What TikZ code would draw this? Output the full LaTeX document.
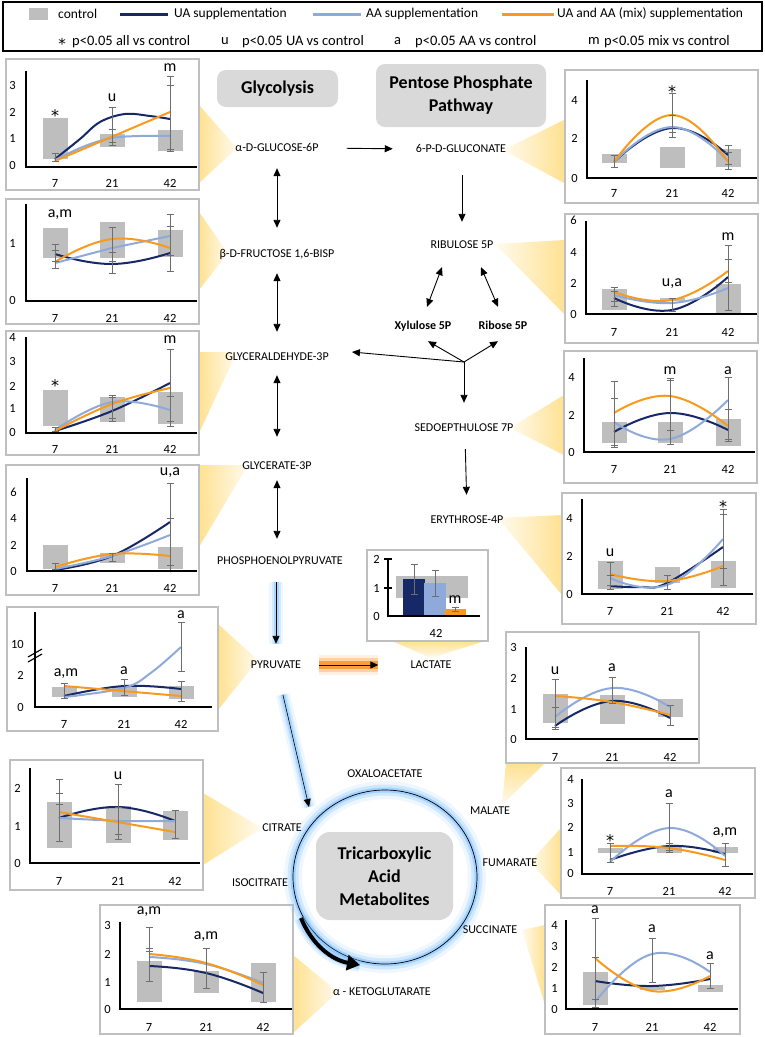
\documentclass[tikz,border=0pt]{standalone}
\usepackage{fontspec}
\setmainfont{Carlito}
\newfontfamily\dvs{DejaVu Sans}
\usetikzlibrary{arrows.meta,shapes.geometric}
\definecolor{uac}{RGB}{22,40,102}
\definecolor{aac}{RGB}{142,170,219}
\definecolor{mixc}{RGB}{247,154,30}
\definecolor{ctrlg}{RGB}{190,190,190}
\definecolor{framec}{RGB}{191,191,191}
\definecolor{errc}{RGB}{110,110,110}
\definecolor{boxg}{RGB}{217,217,217}
\definecolor{callY}{RGB}{255,225,145}
\definecolor{glowB}{RGB}{120,190,255}
\definecolor{glowO}{RGB}{247,140,30}
\newcommand{\fsz}[1]{\fontsize{#1}{#1}\selectfont}
\newcommand{\Cgb}[3]{\fill[ctrlg] ({#1-12.5},#2) rectangle ({#1+12.5},#3);}
\newcommand{\Ceb}[3]{\draw[ebar] (#1,#2) -- (#1,#3);}
\newcommand{\Cyt}[3]{\node[ctick,anchor=east] at (#1,#2) {#3};}
\newcommand{\Cxl}[4]{\node[ctick] at (#2,#1) {7};\node[ctick] at (#3,#1) {21};\node[ctick] at (#4,#1) {42};}
\newcommand{\Csg}[3]{\node[csig] at (#1,#2) {#3};}
\newcommand{\Cstar}[2]{\node[font=\dvs\fsz{16}, inner sep=0pt, anchor=base] at (#1,{#2+9.5}) {*};}
\newcommand{\Cfr}[4]{\draw[cframe] (#1,#2) rectangle (#3,#4);}
\newcommand{\Cax}[4]{\draw[caxis] (#1,#2) -- (#1,#3) -- (#4,#3);}
\tikzset{
 cframe/.style={draw=framec, line width=1.5pt, fill=white},
 caxis/.style={draw=black, line width=1.3pt},
 ebar/.style={draw=errc, line width=0.9pt, {Bar[width=7pt]}-{Bar[width=7pt]}},
 uaL/.style={draw=uac, line width=2pt},
 aaL/.style={draw=aac, line width=2pt},
 mixL/.style={draw=mixc, line width=2pt},
 ctick/.style={font=\fsz{12.5}, inner sep=0pt},
 csig/.style={font=\fsz{16}, inner sep=0pt},
 met/.style={font=\fsz{12}, inner sep=2pt, text height=8pt, text depth=2pt},
 metb/.style={met, font=\bfseries\fsz{12}},
 titlebox/.style={fill=boxg, rounded corners=9pt, font=\bfseries\fontsize{18}{23}\selectfont, align=center},
 arr/.style={line width=0.9pt, -{Triangle[length=8pt,width=7pt]}},
 darr/.style={line width=0.9pt, {Triangle[length=8pt,width=7pt]}-{Triangle[length=8pt,width=7pt]}},
 glowb/.style={preaction={draw=glowB, line width=14pt, opacity=0.12, -}, preaction={draw=glowB, line width=9pt, opacity=0.22, -}, preaction={draw=glowB, line width=5pt, opacity=0.45, -}},
 glowo/.style={preaction={draw=glowO, line width=20pt, opacity=0.12, -}, preaction={draw=glowO, line width=14pt, opacity=0.3, -}, preaction={draw=glowO, line width=8pt, opacity=0.75, -}},
 leg/.style={font=\fsz{13.5}, inner sep=0pt, anchor=west},
 legb/.style={font=\fsz{14.5}, inner sep=0pt, anchor=west},
 callL/.style={left color=callY, right color=callY!15},
 callR/.style={left color=callY!15, right color=callY},
 callT/.style={top color=callY, bottom color=callY!15},
}
\begin{document}
\begin{tikzpicture}[x=1pt,y=-1pt]
\fill[white] (0,0) rectangle (765,1037);
\useasboundingbox (0,0) rectangle (765,1037);

% ---------- legend ----------
\draw[line width=1.2pt] (3,2) rectangle (762,51);
\fill[ctrlg] (29,8) rectangle (48,20);
\node[leg] (lc) at (58,14) {control};
\draw[uac, line width=3pt] (120,14) -- (168,14);
\node[leg] (lua) at (174,14) {UA supplementation};
\draw[aac, line width=3pt] (313,14) -- (361,14);
\node[leg] (laa) at (366,14) {AA supplementation};
\draw[mixc, line width=3pt] (502,14) -- (554,14);
\node[leg] (lmix) at (557,14) {UA and AA (mix) supplementation};
\node[font=\dvs\fsz{15}, inner sep=0pt, anchor=base] (ls) at (62,49) {*};
\node[legb] (lst) at (72,42) {p<0.05 all vs control};
\node[legb] (lu) at (221,41) {u};
\node[legb] (lut) at (242,42) {p<0.05 UA vs control};
\node[legb] (la) at (394,41) {a};
\node[legb] (lat) at (415,42) {p<0.05 AA vs control};
\node[legb] (lm) at (588,41) {m};
\node[legb] (lmt) at (604,42) {p<0.05 mix vs control};

% ---------- callout triangles ----------
\shade[callL] (199,105) -- (237,148) -- (199,183) -- cycle;
\shade[callL] (199,212) -- (228,253) -- (199,290) -- cycle;
\shade[callL] (199,352) -- (237,352) -- (199,433) -- cycle;
\shade[callL] (199,465) -- (248,465) -- (199,547) -- cycle;
\shade[callL] (218,624) -- (258,660) -- (218,710) -- cycle;
\shade[callT] (392,641) -- (485,641) -- (431,658) -- cycle;
\shade[callR] (564,120) -- (503,150) -- (564,183) -- cycle;
\shade[callR] (565,240) -- (495,244) -- (565,315) -- cycle;
\shade[callR] (564,395) -- (510,428) -- (564,455) -- cycle;
\shade[callR] (562,515) -- (498,518) -- (562,595) -- cycle;
\shade[callT] (506,763) -- (545,763) -- (502,805) -- cycle;
\shade[callR] (561,828) -- (530,862) -- (561,895) -- cycle;
\shade[callR] (545,925) -- (522,930) -- (545,1005) -- cycle;
\shade[callL] (293,955) -- (338,992) -- (293,1033) -- cycle;
\shade[callL] (203,793) -- (262,828) -- (203,865) -- cycle;

% ---------- chart: glucose-6P ----------
\Cfr{6}{59}{199}{190}
\Cgb{55}{118}{159}\Cgb{112}{134}{147}\Cgb{170}{130}{151}
\draw[uaL] plot[smooth,tension=0.6] coordinates {(55,159) (80,139) (100,122) (125,114) (150,116) (170,119)};
\draw[aaL] plot[smooth,tension=0.6] coordinates {(55,160) (85,146) (112,138) (140,136) (170,136)};
\draw[mixL] (55,161) -- (170,112);
\Ceb{55}{153}{162}\Ceb{112}{107}{146}\Ceb{112}{129}{143}\Ceb{170}{76}{152}\Ceb{170}{85}{150}
\Cax{26}{71}{167}{197}
\Cyt{16}{85}{3}\Cyt{16}{112}{2}\Cyt{16}{138}{1}\Cyt{16}{165}{0}
\Cxl{183}{55}{112}{170}
\Cstar{55}{112}\Csg{112}{98}{u}\Csg{170}{68}{m}

% ---------- chart: fructose ----------
\Cfr{6}{199}{199}{324}
\Cgb{55}{228}{258}\Cgb{112}{222}{258}\Cgb{170}{230}{257}
\draw[uaL] plot[smooth,tension=0.8] coordinates {(55,254) (112,264) (170,253)};
\draw[aaL] (55,263) -- (112,248) -- (170,236);
\draw[mixL] plot[smooth,tension=0.8] coordinates {(55,262) (112,239) (170,248)};
\Ceb{55}{244}{269}\Ceb{55}{250}{262}\Ceb{112}{227}{274}\Ceb{112}{252}{262}\Ceb{170}{214}{272}\Ceb{170}{226}{256}
\Cax{26}{204}{301}{197}
\Cyt{16}{243}{1}\Cyt{16}{300}{0}
\Cxl{318}{55}{112}{170}
\Csg{60}{215}{a,m}

% ---------- chart: glyceraldehyde ----------
\Cfr{6}{331}{199}{455}
\Cgb{55}{390}{426}\Cgb{112}{397}{422}\Cgb{170}{392}{424}
\draw[uaL] plot[smooth,tension=0.7] coordinates {(55,431) (112,411) (170,383)};
\draw[aaL] plot[smooth,tension=0.7] coordinates {(55,430) (112,402) (170,410)};
\draw[mixL] plot[smooth,tension=0.7] coordinates {(55,431) (112,404) (170,388)};
\Ceb{55}{427}{432}\Ceb{112}{395}{422}\Ceb{112}{397}{419}\Ceb{170}{349}{427}\Ceb{170}{396}{422}
\Cax{26}{337}{433}{197}
\Cyt{16}{337}{4}\Cyt{16}{361}{3}\Cyt{16}{386}{2}\Cyt{16}{408}{1}\Cyt{16}{432}{0}
\Cxl{449}{55}{112}{170}
\Cstar{55}{382}\Csg{170}{340}{m}

% ---------- chart: glycerate ----------
\Cfr{6}{465}{199}{595}
\Cgb{55}{545}{569}\Cgb{112}{553}{563}\Cgb{170}{547}{569}
\draw[uaL] plot[smooth,tension=0.7] coordinates {(55,570) (112,556) (170,522)};
\draw[aaL] plot[smooth,tension=0.7] coordinates {(55,569) (112,556) (170,535)};
\draw[mixL] plot[smooth,tension=0.7] coordinates {(55,567) (112,554) (170,556)};
\Ceb{55}{563}{570}\Ceb{112}{553}{562}\Ceb{170}{483}{571}\Ceb{170}{518}{566}
\Cax{27}{478}{571}{197}
\Cyt{17}{492}{6}\Cyt{17}{518}{4}\Cyt{17}{545}{2}\Cyt{17}{571}{0}
\Cxl{588}{55}{112}{170}
\Csg{170}{473}{u,a}

% ---------- chart: pyruvate ----------
\Cfr{7}{607}{218}{731}
\Cgb{64}{687}{697}\Cgb{124}{687}{697}\Cgb{181}{686}{699}
\draw[uaL] plot[smooth,tension=0.7] coordinates {(64,696) (124,686) (181,689)};
\draw[aaL] plot[smooth,tension=0.6] coordinates {(64,697) (124,688) (152,672) (181,647)};
\draw[mixL] (64,686) -- (181,696);
\Ceb{64}{683}{699}\Ceb{124}{679}{696}\Ceb{181}{622}{672}\Ceb{181}{681}{702}
\Cax{35}{612}{707}{212}
\draw[line width=1.1pt] (28,657) -- (42,649);
\draw[line width=1.1pt] (28,662) -- (42,654);
\Cyt{24}{644}{10}\Cyt{24}{675}{2}\Cyt{24}{707}{0}
\Cxl{724}{64}{124}{181}
\Csg{66}{674}{a,m}\Csg{124}{671}{a}\Csg{181}{615}{a}

% ---------- chart: lactate ----------
\Cfr{367}{550}{488}{641}
\fill[ctrlg] (396,576) rectangle (468,598);
\fill[uac] (403,579) rectangle (425,616);
\fill[aac] (424,583) rectangle (446,616);
\fill[mixc] (445,609) rectangle (466,616);
\Ceb{414}{564}{595}\Ceb{435}{570}{597}\Ceb{455}{607}{612}
\draw[caxis] (388,559) -- (388,616) -- (480,616);
\draw[caxis] (384,559) -- (392,559);
\draw[caxis] (384,588) -- (392,588);
\Cyt{380}{559}{2}\Cyt{380}{588}{1}\Cyt{380}{616}{0}
\node[ctick] at (436,633) {42};
\node[csig] at (455,600) {m};

% ---------- chart: 6-P-gluconate ----------
\Cfr{565}{70}{758}{203}
\Cgb{614}{154}{163}\Cgb{672}{147}{168}\Cgb{728}{149}{167}
\draw[uaL] plot[smooth,tension=0.8] coordinates {(614,162) (672,128) (728,155)};
\draw[aaL] plot[smooth,tension=0.8] coordinates {(614,162) (672,127) (728,161)};
\draw[mixL] plot[smooth,tension=0.8] coordinates {(614,162) (672,115) (728,162)};
\Ceb{614}{155}{168}\Ceb{672}{93}{138}\Ceb{672}{115}{133}\Ceb{728}{145}{170}\Ceb{728}{152}{165}
\Cax{587}{80}{178}{757}
\Cyt{578}{100}{4}\Cyt{578}{138}{2}\Cyt{578}{178}{0}
\Cxl{193}{614}{672}{728}
\Cstar{672}{88}

% ---------- chart: ribulose ----------
\Cfr{565}{214}{758}{343}
\Cgb{614}{289}{310}\Cgb{672}{298}{301}\Cgb{728}{284}{314}
\draw[uaL] plot[smooth,tension=0.8] coordinates {(614,298) (672,310) (728,277)};
\draw[aaL] plot[smooth,tension=0.8] coordinates {(614,295) (672,303) (728,288)};
\draw[mixL] plot[smooth,tension=0.8] coordinates {(614,292) (672,300) (728,271)};
\Ceb{614}{287}{307}\Ceb{614}{291}{302}\Ceb{672}{298}{312}\Ceb{728}{245}{311}\Ceb{728}{259}{283}
\Cax{586}{221}{314}{757}
\Cyt{577}{220}{6}\Cyt{577}{252}{4}\Cyt{577}{283}{2}\Cyt{577}{314}{0}
\Cxl{332}{614}{672}{728}
\Csg{672}{284}{u,a}\Csg{728}{237}{m}

% ---------- chart: sedoheptulose ----------
\Cfr{564}{351}{757}{483}
\Cgb{614}{422}{443}\Cgb{670}{422}{443}\Cgb{728}{419}{446}
\draw[uaL] plot[smooth,tension=0.8] coordinates {(614,432) (670,413) (728,430)};
\draw[aaL] plot[smooth,tension=0.8] coordinates {(614,422) (670,439) (728,400)};
\draw[mixL] plot[smooth,tension=0.8] coordinates {(614,413) (670,396) (728,426)};
\Ceb{614}{381}{448}\Ceb{614}{398}{446}\Ceb{670}{378}{445}\Ceb{670}{380}{431}\Ceb{728}{377}{442}\Ceb{728}{409}{440}
\Cax{584}{358}{452}{755}
\Cyt{575}{377}{4}\Cyt{575}{415}{2}\Cyt{575}{452}{0}
\Cxl{469}{614}{670}{728}
\Csg{670}{371}{m}\Csg{728}{371}{a}

% ---------- chart: erythrose ----------
\Cfr{562}{493}{756}{624}
\Cgb{610}{561}{589}\Cgb{667}{567}{583}\Cgb{723}{561}{588}
\draw[uaL] plot[smooth,tension=0.7] coordinates {(610,586) (640,587) (667,583) (723,547)};
\draw[aaL] plot[smooth,tension=0.8] coordinates {(610,578) (667,585) (723,539)};
\draw[mixL] plot[smooth,tension=0.8] coordinates {(610,574) (667,581) (723,566)};
\Ceb{610}{562}{590}\Ceb{610}{575}{586}\Ceb{667}{575}{590}\Ceb{723}{509}{586}\Ceb{723}{514}{569}
\Cax{582}{499}{594}{753}
\Cyt{573}{518}{4}\Cyt{573}{556}{2}\Cyt{573}{594}{0}
\Cxl{611}{610}{667}{723}
\Csg{610}{553}{u}\Cstar{723}{503}

% ---------- chart: malate ----------
\Cfr{506}{632}{699}{763}
\Cgb{555}{694}{723}\Cgb{612}{695}{724}\Cgb{670}{699}{717}
\draw[uaL] plot[smooth,tension=0.8] coordinates {(555,726) (612,701) (670,718)};
\draw[aaL] plot[smooth,tension=0.8] coordinates {(555,717) (612,688) (670,707)};
\draw[mixL] plot[smooth,tension=0.8] coordinates {(555,696) (612,702) (670,715)};
\Ceb{555}{679}{730}\Ceb{555}{707}{728}\Ceb{612}{677}{704}\Ceb{670}{705}{726}
\Cax{526}{647}{739}{698}
\Cyt{517}{647}{3}\Cyt{517}{678}{2}\Cyt{517}{709}{1}\Cyt{517}{739}{0}
\Cxl{757}{555}{612}{670}
\Csg{555}{671}{u}\Csg{612}{668}{a}

% ---------- chart: fumarate ----------
\Cfr{561}{768}{755}{898}
\Cgb{610}{848}{853}\Cgb{669}{846}{853}\Cgb{725}{847}{853}
\draw[uaL] plot[smooth,tension=0.8] coordinates {(610,860) (669,846) (725,854)};
\draw[aaL] plot[smooth,tension=0.8] coordinates {(610,862) (669,828) (725,856)};
\draw[mixL] plot[smooth,tension=0.8] coordinates {(610,846) (669,848) (725,860)};
\Ceb{610}{843}{863}\Ceb{669}{803}{853}\Ceb{669}{843}{851}\Ceb{725}{843}{867}
\Cax{582}{779}{874}{753}
\Cyt{574}{779}{4}\Cyt{574}{803}{3}\Cyt{574}{827}{2}\Cyt{574}{852}{1}\Cyt{574}{873}{0}
\Cxl{891}{610}{669}{725}
\Cstar{610}{837}\Csg{669}{794}{a}\Csg{725}{833}{a,m}

% ---------- chart: succinate ----------
\Cfr{545}{905}{740}{1034}
\Cgb{595}{972}{1005}\Cgb{652}{987}{990}\Cgb{710}{985}{992}
\draw[uaL] plot[smooth,tension=0.8] coordinates {(595,981) (652,986) (710,979)};
\draw[aaL] plot[smooth,tension=0.8] coordinates {(595,1002) (652,954) (710,972)};
\draw[mixL] plot[smooth,tension=0.8] coordinates {(595,958) (652,991) (710,976)};
\Ceb{595}{918}{1008}\Ceb{595}{957}{1000}\Ceb{652}{938}{983}\Ceb{710}{963}{989}
\Cax{566}{920}{1009}{738}
\Cyt{558}{925}{4}\Cyt{558}{946}{3}\Cyt{558}{967}{2}\Cyt{558}{988}{1}\Cyt{558}{1009}{0}
\Cxl{1027}{595}{652}{710}
\Csg{595}{910}{a}\Csg{652}{929}{a}\Csg{710}{956}{a}

% ---------- chart: alpha-ketoglutarate ----------
\Cfr{100}{905}{293}{1034}
\Cgb{149}{961}{1002}\Cgb{206}{971}{993}\Cgb{263}{963}{1002}
\draw[uaL] plot[smooth,tension=0.8] coordinates {(149,966) (206,973) (263,993)};
\draw[aaL] plot[smooth,tension=0.8] coordinates {(149,957) (206,964) (263,983)};
\draw[mixL] plot[smooth,tension=0.8] coordinates {(149,954) (206,963) (263,985)};
\Ceb{149}{927}{982}\Ceb{149}{948}{952}\Ceb{206}{948}{989}\Ceb{263}{972}{1003}
\Cax{120}{922}{1009}{292}
\Cyt{111}{925}{3}\Cyt{111}{954}{2}\Cyt{111}{982}{1}\Cyt{111}{1009}{0}
\Cxl{1027}{149}{206}{263}
\Csg{149}{912}{a,m}\Csg{206}{937}{a,m}

% ---------- chart: citrate ----------
\Cfr{10}{760}{203}{890}
\Cgb{59}{802}{848}\Cgb{118}{806}{843}\Cgb{175}{811}{840}
\draw[uaL] plot[smooth,tension=0.8] coordinates {(59,818) (118,807) (175,821)};
\draw[aaL] (59,818) -- (118,821) -- (175,821);
\draw[mixL] (59,812) -- (175,832);
\Ceb{59}{779}{842}\Ceb{59}{793}{805}\Ceb{118}{784}{840}\Ceb{118}{807}{835}\Ceb{175}{810}{839}
\Cax{30}{768}{863}{200}
\Cyt{21}{788}{2}\Cyt{21}{826}{1}\Cyt{21}{863}{0}
\Cxl{881}{59}{118}{175}
\Csg{118}{776}{u}

% ---------- title boxes ----------
\node[titlebox, minimum width=121pt, minimum height=37pt] (glyc) at (277.5,88.5) {Glycolysis};
\node[titlebox, minimum width=170pt, minimum height=63pt] (ppp) at (461,95.5) {Pentose Phosphate\\Pathway};

% ---------- TCA cycle ----------
\coordinate (tcac) at (385,877);
\draw[line width=0.7pt, preaction={draw=glowB, line width=18pt, opacity=0.12}, preaction={draw=glowB, line width=11pt, opacity=0.25}, preaction={draw=glowB, line width=5pt, opacity=0.5}] (tcac) ellipse [x radius=92pt, y radius=87pt];
\node[titlebox, minimum width=137pt, minimum height=88pt, rounded corners=14pt] (tca) at (384.5,876) {Tricarboxylic\\Acid\\Metabolites};
\coordinate (k1) at (301,918);
\coordinate (k2) at (360,965);
\draw[line width=4pt, -{Triangle[length=13pt,width=15pt]}, preaction={draw=glowB, line width=14pt, opacity=0.2, -}, preaction={draw=glowB, line width=9pt, opacity=0.35, -}] (k1) .. controls (312,945) and (332,960) .. (k2);

% ---------- metabolite labels ----------
\node[met] (glu) at (277,148) {α-D-GLUCOSE-6P};
\node[met] (fru) at (277,254) {β-D-FRUCTOSE 1,6-BISP};
\node[met] (gap) at (277,357) {GLYCERALDEHYDE-3P};
\node[met] (g3p) at (277,466) {GLYCERATE-3P};
\node[met] (pep) at (280,561) {PHOSPHOENOLPYRUVATE};
\node[met] (pyr) at (276,665) {PYRUVATE};
\node[met] (lac) at (431,665) {LACTATE};
\node[met] (pg) at (461,149) {6-P-D-GLUCONATE};
\node[met] (ru5p) at (462,245) {RIBULOSE 5P};
\node[metb] (xyl) at (423,326) {Xylulose 5P};
\node[metb] (rib) at (503,326) {Ribose 5P};
\node[met] (sedo) at (464,428) {SEDOEPTHULOSE 7P};
\node[met] (ery) at (467,520) {ERYTHROSE-4P};
\node[met] (oaa) at (385,774) {OXALOACETATE};
\node[met] (mal) at (490,811) {MALATE};
\node[met] (cit) at (282,828) {CITRATE};
\node[met] (iso) at (260,883) {ISOCITRATE};
\node[met] (fum) at (510,863) {FUMARATE};
\node[met] (suc) at (490,930) {SUCCINATE};
\node[met] (akg) at (382,992) {α - KETOGLUTARATE};

% ---------- connectors ----------
\draw[darr, shorten <=13pt, shorten >=19pt] (glu.south) -- (fru.north);
\draw[darr, shorten <=12pt, shorten >=18pt] (fru.south) -- (gap.north);
\draw[darr, shorten <=11pt, shorten >=22pt] (gap.south) -- (g3p.north);
\draw[darr, shorten <=7pt, shorten >=15pt] (g3p.south) -- (g3p.south |- pep.north);
\draw[arr, glowb, shorten <=14pt, shorten >=14pt] (pep.south -| pyr.north) -- (pyr.north);
\draw[arr, glowo, shorten <=16pt, shorten >=30pt] (pyr.east) -- (lac.west);
\coordinate (tcain) at (309,807);
\draw[arr, line width=0.6pt, glowb, shorten <=23pt] (pyr) -- (tcain);
\draw[arr, shorten <=26pt, shorten >=21pt] (glu.east) -- (pg.west);
\draw[arr, shorten <=19pt, shorten >=16pt] ([xshift=1pt]pg.south) -- (ru5p.north);
\draw[darr] ([xshift=-20pt,yshift=-15pt]ru5p.south) -- ([xshift=4pt,yshift=12pt]xyl.north);
\draw[darr] ([xshift=19pt,yshift=-15pt]ru5p.south) -- ([xshift=-5pt,yshift=12pt]rib.north);
\coordinate (junc) at (464,362);
\draw[arr] (junc) -- ([xshift=5pt,yshift=-8pt]xyl.south);
\draw[arr] (junc) -- ([xshift=-5pt,yshift=-8pt]rib.south);
\draw[arr] (junc) -- ([xshift=21pt,yshift=5pt]gap.east);
\draw[arr] (junc) -- ([yshift=18pt]sedo.north);
\draw[arr, shorten <=14pt, shorten >=18pt] ([xshift=1pt]sedo.south) -- (ery.north);
\end{tikzpicture}
\end{document}
